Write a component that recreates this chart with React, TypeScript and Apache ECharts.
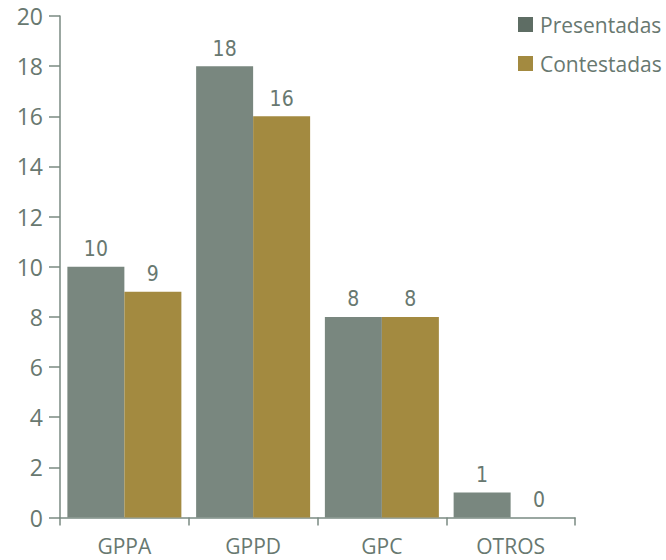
import React, { useEffect, useRef } from "react";
import * as echarts from "echarts";

const categories = ["GPPA", "GPPD", "GPC", "OTROS"];
const presentadas = [10, 18, 8, 1];
const contestadas = [9, 16, 8, 0];
const yTicks = { min: 0, max: 20, interval: 2 };

const TEXT = "#687870";
const AXIS = "#7a8a82";
const GREY = "#79877f";
const GOLD = "#a38a40";
const GREY_LEG = "#5e6d64";

export default function App() {
  const ref = useRef<HTMLDivElement>(null);
  useEffect(() => {
    if (!ref.current) return;
    const chart = echarts.init(ref.current, undefined, { renderer: "svg" });
    const labelStyle = {
      show: true,
      position: "top" as const,
      distance: 7,
      color: TEXT,
      fontSize: 21,
      fontFamily: "'Liberation Sans Narrow', 'DejaVu Sans Condensed', sans-serif",
    };
    chart.setOption({
      animation: false,
      grid: { left: 60, right: 91, top: 16, bottom: 42.5, containLabel: false },
      legend: {
        orient: "vertical",
        left: 518,
        top: 14,
        padding: 0,
        itemWidth: 15,
        itemHeight: 15,
        itemGap: 18,
        icon: "rect",
        textStyle: { color: TEXT, fontSize: 21, fontFamily: "Open Sans, sans-serif", padding: [0, 0, 0, 2] },
        data: [
          { name: "Presentadas", itemStyle: { color: GREY_LEG } },
          { name: "Contestadas", itemStyle: { color: GOLD } },
        ],
      },
      xAxis: {
        type: "category",
        data: categories,
        axisLine: { lineStyle: { color: AXIS, width: 1.5 } },
        axisTick: { show: true, length: 8, lineStyle: { color: AXIS, width: 1.5 } },
        axisLabel: { color: TEXT, fontSize: 21, margin: 18, fontFamily: "Open Sans, sans-serif" },
      },
      yAxis: {
        type: "value",
        min: yTicks.min,
        max: yTicks.max,
        interval: yTicks.interval,
        splitLine: { show: false },
        axisLine: { show: true, lineStyle: { color: AXIS, width: 1.5 } },
        axisTick: { show: true, length: 11, lineStyle: { color: AXIS, width: 1.5 } },
        axisLabel: { color: TEXT, fontSize: 23, margin: 17, fontFamily: "Open Sans, sans-serif" },
      },
      series: [
        {
          name: "Presentadas",
          type: "bar",
          data: presentadas,
          barWidth: 57,
          barGap: "0%",
          itemStyle: { color: GREY },
          label: labelStyle,
        },
        {
          name: "Contestadas",
          type: "bar",
          data: contestadas,
          barWidth: 57,
          barGap: "0%",
          itemStyle: { color: GOLD },
          label: labelStyle,
        },
      ],
    });
    return () => chart.dispose();
  }, []);
  return <div ref={ref} style={{ width: 666, height: 560, position: "absolute", left: 0, top: 0 }} />;
}
